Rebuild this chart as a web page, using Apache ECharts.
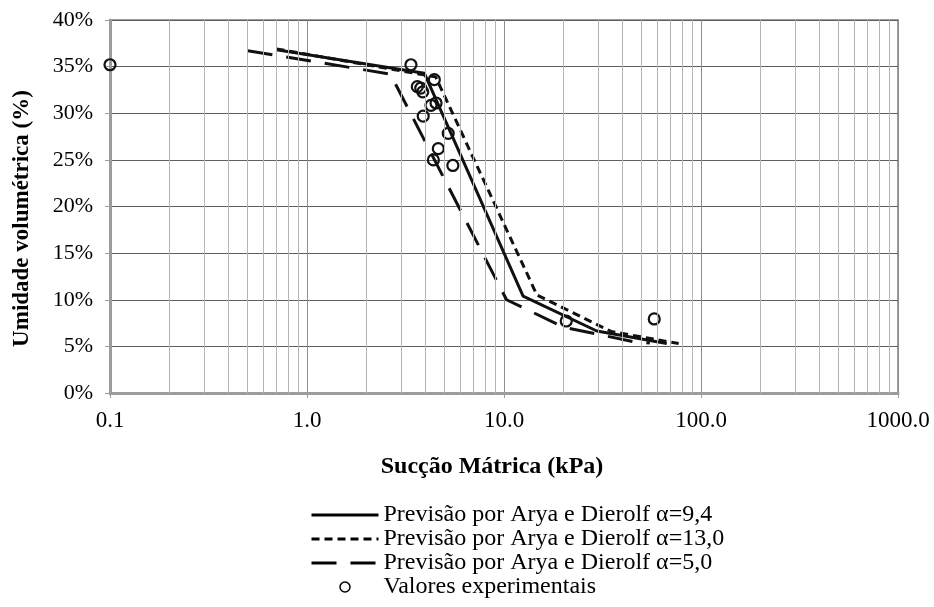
<!DOCTYPE html>
<html><head><meta charset="utf-8">
<script src="https://cdn.jsdelivr.net/npm/echarts@6/dist/echarts.min.js"></script>
<style>html,body{margin:0;padding:0;background:#fff}#c{width:934px;height:607px}</style>
</head><body><div id="c"></div>
<script>
// Data (suction kPa, volumetric water content %)
const suctionA94 = [0.7, 3.94, 12.5, 29.6, 67];
const thetaA94   = [36.8, 34.3, 10.4, 6.65, 5.3];
const suctionA130 = [0.7, 4.5, 14.7, 35, 77];
const thetaA130   = [36.9, 33.9, 10.5, 6.6, 5.3];
const suctionA50 = [0.5, 2.65, 10.3, 20.1, 45.5, 55];
const thetaA50   = [36.7, 34.2, 10.0, 7.05, 5.5, 5.35];
const suctionExp = [0.1, 3.37, 3.63, 3.78, 3.87, 4.43, 4.26, 4.52, 3.89, 5.21, 4.64, 4.38, 5.50, 20.7, 57.9];
const thetaExp   = [35.2, 35.2, 32.85, 32.7, 32.3, 33.6, 30.85, 31.1, 29.7, 27.85, 26.2, 25.0, 24.4, 7.72, 7.94];
const xTickLabels = ['0.1', '1.0', '10.0', '100.0', '1000.0'];
const yTicks = [0, 5, 10, 15, 20, 25, 30, 35, 40];
const seriesNames = [
  'Previsão por Arya e Dierolf α=9,4',
  'Previsão por Arya e Dierolf α=13,0',
  'Previsão por Arya e Dierolf α=5,0',
  'Valores experimentais'
];

const pairs = (xs, ys) => xs.map((x, i) => [x, ys[i]]);
// minor vertical grid positions (2..9 within each decade)
const minorGrid = [];
[0.1, 1, 10, 100].forEach(d => { for (let k = 2; k <= 9; k++) minorGrid.push(+(d * k).toPrecision(3)); });

const FONT = 'Liberation Serif';
const chart = echarts.init(document.getElementById('c'), null, {renderer: 'canvas'});
chart.setOption({
  animation: false,
  backgroundColor: '#fff',
  textStyle: {fontFamily: FONT, color: '#000'},
  grid: {left: 110, right: 36, top: 20, bottom: 214, show: true, borderColor: '#9c9c9c', borderWidth: 2, backgroundColor: 'transparent'},
  xAxis: {
    type: 'log', logBase: 10, min: 0.1, max: 1000,
    name: 'Sucção Mátrica (kPa)', nameLocation: 'middle', nameGap: 62,
    nameTextStyle: {fontFamily: FONT, fontWeight: 'bold', fontSize: 24, color: '#000', padding: [0, 24, 0, 0]},
    axisLine: {show: true, lineStyle: {color: '#9c9c9c', width: 3}},
    axisTick: {show: true, length: 5, lineStyle: {color: '#9c9c9c', width: 1}},
    axisLabel: {fontFamily: FONT, fontSize: 23, color: '#000', margin: 16,
      formatter: v => { const i = Math.round(Math.log10(v)) + 1; return xTickLabels[i] !== undefined ? xTickLabels[i] : ''; }},
    splitLine: {show: true, lineStyle: {color: '#8e8e8e', width: 1}},
    minorTick: {show: false}, minorSplitLine: {show: false}
  },
  yAxis: {
    type: 'value', min: yTicks[0], max: yTicks[yTicks.length - 1], interval: 5,
    name: 'Umidade volumétrica (%)', nameLocation: 'middle', nameGap: 76,
    nameTextStyle: {fontFamily: FONT, fontWeight: 'bold', fontSize: 23, color: '#000', padding: [0, 24, 0, 0]},
    axisLine: {show: true, lineStyle: {color: '#9c9c9c', width: 3}},
    axisTick: {show: true, length: 5, lineStyle: {color: '#9c9c9c', width: 1}},
    axisLabel: {fontFamily: FONT, fontSize: 22, color: '#000', margin: 17, formatter: '{value}%'},
    splitLine: {show: true, lineStyle: {color: '#5e5e5e', width: 1}}
  },
  legend: {
    orient: 'vertical', left: 305, top: 498, itemWidth: 67, itemHeight: 10, itemGap: 0,
    textStyle: {fontFamily: FONT, fontSize: 24, color: '#000', lineHeight: 24},
    data: seriesNames.map((n, i) => i === 3
      ? {name: n, itemStyle: {borderWidth: 1.5, borderColor: '#000'}}
      : {name: n, itemStyle: {opacity: 0}, lineStyle: {width: 3, color: '#000'}})
  },
  series: [
    {type: 'line', name: 'grid', data: [], z: 0, silent: true,
      markLine: {silent: true, symbol: ['none', 'none'], label: {show: false}, animation: false,
        lineStyle: {color: '#b4b4b4', type: 'solid', width: 1},
        data: minorGrid.map(v => ({xAxis: v}))}},
    {type: 'line', name: seriesNames[0], data: pairs(suctionA94, thetaA94), symbol: 'none', z: 3,
      lineStyle: {color: '#111', width: 3, type: 'solid'}, itemStyle: {color: '#111'}},
    {type: 'line', name: seriesNames[1], data: pairs(suctionA130, thetaA130), symbol: 'none', z: 3,
      lineStyle: {color: '#111', width: 3, type: [8, 5]}, itemStyle: {color: '#111'}},
    {type: 'line', name: seriesNames[2], data: pairs(suctionA50, thetaA50), symbol: 'none', z: 3,
      lineStyle: {color: '#111', width: 3, type: [25, 14]}, itemStyle: {color: '#111'}},
    {type: 'scatter', name: seriesNames[3], data: pairs(suctionExp, thetaExp), symbol: 'circle', symbolSize: 11, z: 4,
      itemStyle: {color: 'rgba(255,255,255,0)', borderColor: '#111', borderWidth: 2.2, opacity: 1}}
  ]
});
</script></body></html>
